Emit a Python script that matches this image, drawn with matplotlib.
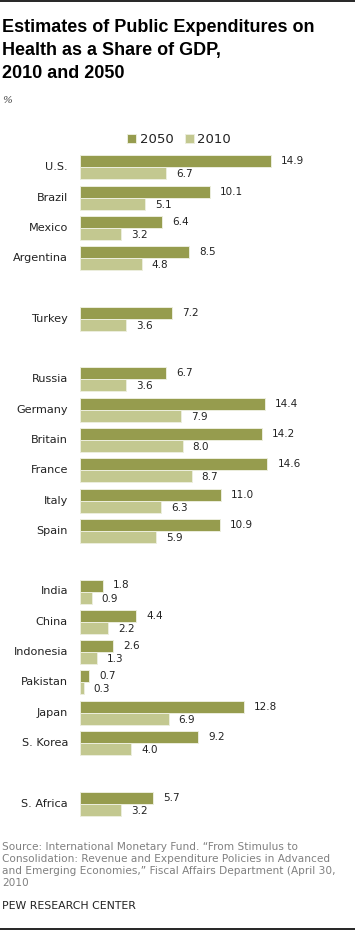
import matplotlib
matplotlib.use("Agg")
import matplotlib.pyplot as plt
from matplotlib.lines import Line2D
import numpy as np

# data
countries = ["U.S.", "Brazil", "Mexico", "Argentina",
             "Turkey",
             "Russia", "Germany", "Britain", "France", "Italy", "Spain",
             "India", "China", "Indonesia", "Pakistan", "Japan", "S. Korea",
             "S. Africa"]
group_sizes = [4, 1, 6, 6, 1]
v2050 = [14.9, 10.1, 6.4, 8.5, 7.2, 6.7, 14.4, 14.2, 14.6, 11.0, 10.9,
         1.8, 4.4, 2.6, 0.7, 12.8, 9.2, 5.7]
v2010 = [6.7, 5.1, 3.2, 4.8, 3.6, 3.6, 7.9, 8.0, 8.7, 6.3, 5.9,
         0.9, 2.2, 1.3, 0.3, 6.9, 4.0, 3.2]
series_labels = ["2050", "2010"]

title_lines = ["Estimates of Public Expenditures on",
               "Health as a Share of GDP,",
               "2010 and 2050"]
source_lines = ["Source: International Monetary Fund. \u201cFrom Stimulus to",
                "Consolidation: Revenue and Expenditure Policies in Advanced",
                "and Emerging Economies,\u201d Fiscal Affairs Department (April 30,",
                "2010"]

C2050 = "#969c4e"
C2010 = "#c3c890"
EDGE = "#eceedd"
W, H = 355, 931


def fy(px):
    return 1 - px / H


# slot positions: one slot per country, one empty slot between groups
slots = []
s = 0
for n in group_sizes:
    slots.extend(range(s, s + n))
    s += n + 1
slots = np.array(slots, dtype=float)

fig = plt.figure(figsize=(W / 100, H / 100), dpi=100)
fig.patch.set_facecolor("white")

pitch = 30.3
top0 = 155.3
ax_top, ax_bot = 140, 840
ax = fig.add_axes([80 / W, fy(ax_bot), 275 / W, (ax_bot - ax_top) / H])
ax.set_xlim(0, 275 / 12.83)
ax.set_ylim((ax_bot - top0) / pitch, (ax_top - top0) / pitch)
ax.axis("off")

bh = 12 / pitch
y50 = slots + 6 / pitch
y10 = slots + 18 / pitch
b50 = ax.barh(y50, v2050, height=bh, color=C2050, edgecolor=EDGE, linewidth=0.7,
              label=series_labels[0])
b10 = ax.barh(y10, v2010, height=bh, color=C2010, edgecolor=EDGE, linewidth=0.7,
              label=series_labels[1])

for name, yc, a, b, ya, yb in zip(countries, slots + 12 / pitch, v2050, v2010, y50, y10):
    ax.annotate(name, (0, yc), xytext=(-12, 0), textcoords="offset pixels",
                ha="right", va="center", fontsize=8.1, color="#222222")
    ax.annotate(f"{a:.1f}", (a, ya), xytext=(10, 0), textcoords="offset pixels",
                ha="left", va="center", fontsize=7.5, color="#222222")
    ax.annotate(f"{b:.1f}", (b, yb), xytext=(10, -1), textcoords="offset pixels",
                ha="left", va="center", fontsize=7.5, color="#222222")

# legend
fig.legend(handles=[b50, b10], loc="center", bbox_to_anchor=(179 / W, fy(139.5)),
           ncol=2, frameon=False, fontsize=9.5, handlelength=0.7, handleheight=0.7,
           handletextpad=0.25, columnspacing=0.85, borderpad=0, labelcolor="#222222")

# title
for i, line in enumerate(title_lines):
    fig.text(2 / W, fy(31.7 + 23 * i), line, ha="left", va="baseline",
             fontsize=13, fontweight="bold", family="Liberation Sans", color="black")
fig.text(2 / W, fy(103), "%", ha="left", va="baseline", fontsize=7.5,
         style="italic", family="DejaVu Serif", color="#444444")

# source and credit
for i, line in enumerate(source_lines):
    fig.text(2 / W, fy(850 + 12 * i), line, ha="left", va="baseline",
             fontsize=7.6, color="#808080")
fig.text(2 / W, fy(909), "PEW RESEARCH CENTER", ha="left", va="baseline",
         fontsize=7.8, color="#222222")

# rules
fig.add_artist(Line2D([0, 1], [fy(1.2), fy(1.2)], color="black", lw=1.2))
fig.add_artist(Line2D([0, 1], [fy(929), fy(929)], color="black", lw=1.2))

fig.savefig("out.png", dpi=100, facecolor="white")
